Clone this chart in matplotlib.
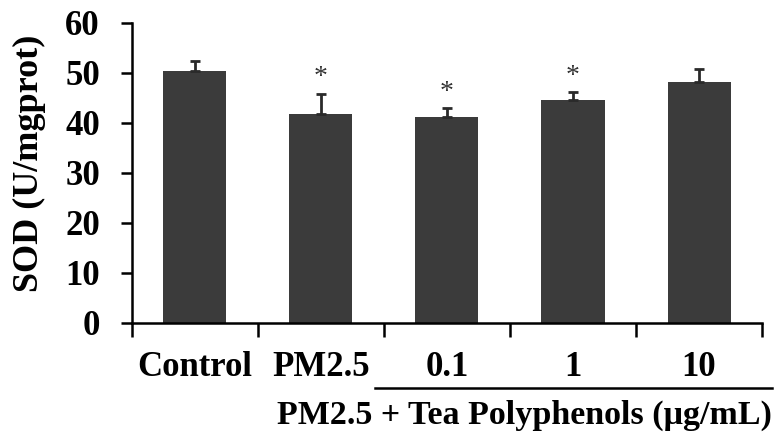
import matplotlib.pyplot as plt
import matplotlib.transforms as mtransforms

groups = ["Control", "PM2.5", "0.1", "1", "10"]
sod = [50.3, 41.7, 41.1, 44.6, 48.1]
sod_err = [2.0, 4.1, 1.8, 1.5, 2.6]
signif = [False, True, True, True, False]

plt.rcParams['font.family'] = ['Liberation Serif', 'DejaVu Serif']

fig = plt.figure(figsize=(7.8, 4.41), dpi=100)
ax = fig.add_axes([0.169, 0.2676, 0.808, 0.6804])

x = list(range(len(groups)))
ax.bar(x, sod, width=0.5, color='#3b3b3b', zorder=2)
ax.errorbar(x, sod, yerr=[[0] * len(sod), sod_err], fmt='none',
            ecolor='#2a2a2a', elinewidth=2, capsize=3.5, capthick=2, zorder=3)

for xi, v, e, s in zip(x, sod, sod_err, signif):
    if s:
        ax.text(xi, v + e + 3.2, "*", ha='center', va='center',
                fontsize=20, color='#333333')

ax.set_xlim(-0.5, 4.5)
ax.set_ylim(0, 60)
ax.set_yticks(range(0, 61, 10))
ax.tick_params(axis='y', direction='out', length=8, width=1.8, pad=15,
               labelsize=25)
for lab in ax.get_yticklabels():
    lab.set_fontweight('bold')

# labels at bar centres, tick marks at category boundaries
ax.set_xticks(x)
ax.set_xticklabels(groups, fontsize=25, fontweight='bold')
ax.tick_params(axis='x', which='major', length=0, pad=20)
ax.set_xticks([i - 0.5 for i in range(len(groups) + 1)], minor=True)
ax.tick_params(axis='x', which='minor', direction='out', length=10, width=1.8)

ax.set_ylabel("SOD (U/mgprot)", fontsize=26, fontweight='bold', va='center')
ax.yaxis.set_label_coords(-0.162, 0.532)

for side in ['top', 'right']:
    ax.spines[side].set_visible(False)
for side in ['left', 'bottom']:
    ax.spines[side].set_linewidth(1.8)

trans = mtransforms.blended_transform_factory(ax.transData, ax.transAxes)
ax.plot([1.43, 4.58], [-0.217, -0.217], color='black', lw=1.8,
        transform=trans, clip_on=False)
ax.text(4.58, -0.307, "PM2.5 + Tea Polyphenols (\u03bcg/mL)", ha='right',
        va='center', fontsize=24.5, fontweight='bold', transform=trans)

fig.savefig("out.png", dpi=100)
